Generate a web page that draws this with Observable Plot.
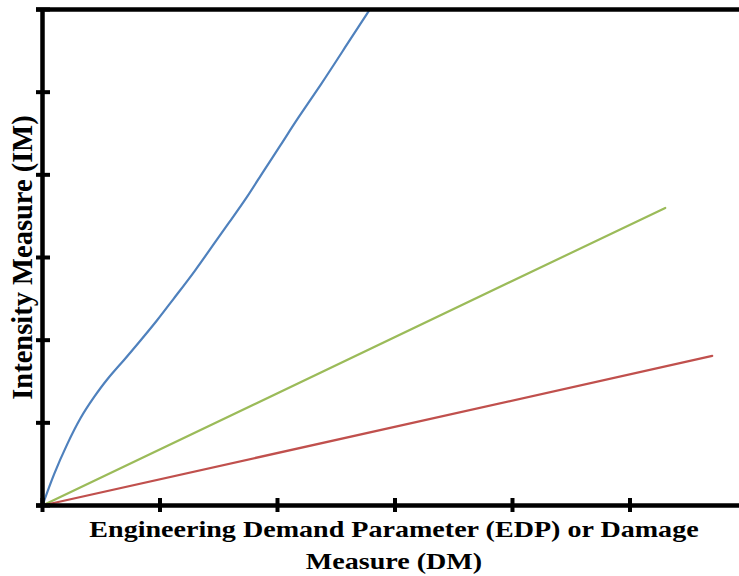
<!DOCTYPE html>
<html><head><meta charset="utf-8">
<script src="https://cdn.jsdelivr.net/npm/d3@7"></script>
<script src="https://cdn.jsdelivr.net/npm/@observablehq/plot@0.6"></script>
<style>body{margin:0;background:#fff}</style>
</head><body><div id="chart"></div>
<script>
// Blue curve
const blueX = [0, 0.096, 0.210, 0.323, 0.437, 0.551, 0.692, 0.834, 0.976, 1.104, 1.302, 1.458, 1.600, 1.742, 1.883, 2.026, 2.168, 2.366, 2.596, 2.791];
const blueY = [0, 0.383, 0.746, 1.068, 1.310, 1.533, 1.754, 1.996, 2.238, 2.480, 2.843, 3.166, 3.447, 3.729, 4.052, 4.355, 4.678, 5.080, 5.588, 6.012];
// Green and red straight lines
const greenX = [0, 5.30];
const greenY = [0, 3.60];
const redX = [0, 5.70];
const redY = [0, 1.81];
const xTicks = [0, 1, 2, 3, 4, 5];
const yTicks = [0, 1, 2, 3, 4, 5, 6];
const xLabel = "Engineering Demand Parameter (EDP) or Damage\nMeasure (DM)";
const yLabel = "Intensity Measure (IM)";

const toPts = (xs, ys) => xs.map((x, i) => ({x, y: ys[i]}));
const font = "'Liberation Serif', 'Times New Roman', serif";

const chart = Plot.plot({
  width: 739,
  height: 576,
  marginLeft: 42,
  marginRight: 0,
  marginTop: 9,
  marginBottom: 71,
  x: {domain: [0, 5.932], axis: null},
  y: {domain: [0, 6], axis: null},
  style: {fontFamily: font, background: "#fff"},
  marks: [
    Plot.line(toPts(greenX, greenY), {x: "x", y: "y", stroke: "#9bbb59", strokeWidth: 2.2}),
    Plot.line(toPts(redX, redY), {x: "x", y: "y", stroke: "#c0504d", strokeWidth: 2.2}),
    Plot.line(toPts(blueX, blueY), {x: "x", y: "y", stroke: "#4f81bd", strokeWidth: 2.2, curve: "basis", clip: true}),
    Plot.ruleX([0], {stroke: "#000", strokeWidth: 4.5}),
    Plot.ruleY([0, 6], {stroke: "#000", strokeWidth: 4.5, insetLeft: -6}),
    Plot.axisX({ticks: xTicks, tickSize: 14, dy: -7, strokeWidth: 4, stroke: "#000", tickFormat: () => "", label: null}),
    Plot.axisY({ticks: yTicks, tickSize: 14, dx: 8, strokeWidth: 4, stroke: "#000", tickFormat: () => "", label: null}),
    Plot.text([xLabel], {frameAnchor: "bottom", lineAnchor: "top", dy: 8.5, dx: 3, fontSize: 24, lineHeight: 1.33, fontWeight: "bold", fontFamily: font, fill: "#000"}),
    Plot.text([yLabel], {frameAnchor: "left", textAnchor: "middle", rotate: -90, dx: -20, fontSize: 28.5, fontWeight: "bold", fontFamily: font, fill: "#000"})
  ]
});
document.getElementById("chart").appendChild(chart);
// the reference's x-axis title is set in a horizontally widened face
d3.select(chart).selectAll("text")
  .filter(function() { return this.textContent.startsWith("Engineering"); })
  .each(function() {
    const b = this.getBBox();
    const cx = b.x + b.width / 2;
    const t = this.getAttribute("transform") || "";
    this.setAttribute("transform", `${t} translate(${cx},0) scale(1.17,1) translate(${-cx},0)`);
  });
</script>
</body></html>
